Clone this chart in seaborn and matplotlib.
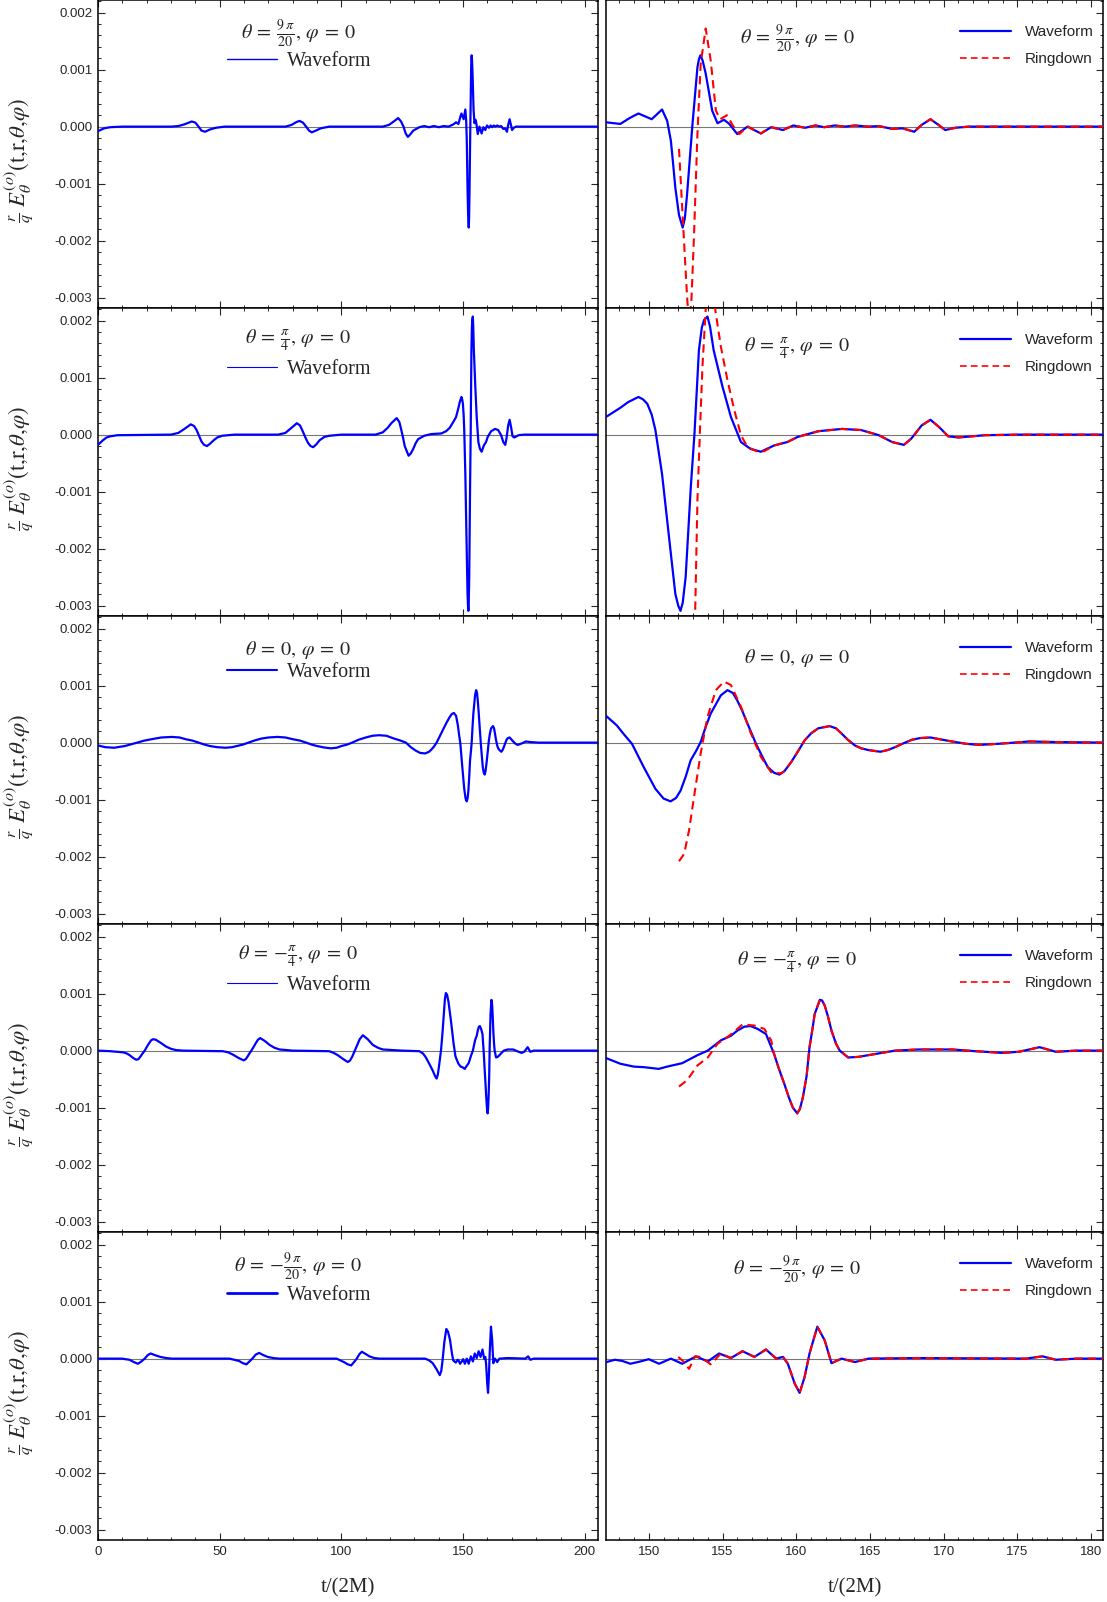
import numpy as np
import matplotlib.pyplot as plt
import seaborn as sns
from matplotlib.lines import Line2D
from matplotlib.ticker import MultipleLocator, FixedLocator

sns.set_style("ticks")
plt.rcParams["font.family"] = ["Liberation Sans", "DejaVu Sans"]
plt.rcParams["mathtext.fontset"] = "stix"
plt.rcParams["xtick.direction"] = "in"
plt.rcParams["ytick.direction"] = "in"

# ------------------------------------------------------------
# data (values in units of 1e-3)
# ------------------------------------------------------------
titles = [
    r"$\theta\:=\:\frac{9\,\pi}{20},\,\varphi\:=\:0$",
    r"$\theta\:=\:\frac{\pi}{4},\,\varphi\:=\:0$",
    r"$\theta\:=\:0,\,\varphi\:=\:0$",
    r"$\theta\:=\:-\frac{\pi}{4},\,\varphi\:=\:0$",
    r"$\theta\:=\:-\frac{9\,\pi}{20},\,\varphi\:=\:0$",
]

# theta = 9pi/20
wave1_t = [0, 1, 2.5, 5, 10, 30, 33, 35.5, 38.5, 40, 41.3, 42.5, 44, 46, 48.5, 52,
           77, 79.5, 81.5, 82.8, 84.2, 85.5, 86.7, 87.8, 89.5, 91.5, 95,
           117, 119.5, 121.5, 123.3, 124.5, 125.5, 126.4, 127.3, 128.4, 129.5, 132,
           134, 136, 138, 140, 142, 144, 146,
           147.1, 148.07, 148.7, 149.3, 150.2, 150.9, 151.25, 151.5, 151.65, 151.8, 152.05, 152.3,
           152.45, 152.6, 152.95, 153.3, 153.4, 153.5, 153.65, 153.86, 154.05, 154.3, 154.66,
           155.1, 155.45, 156.0, 156.7, 157.6, 158.3, 159.1, 159.8,
           160.6, 161.3, 161.9, 162.6, 163.3, 164.0, 164.9, 165.6, 166.5, 167.2, 168.0, 168.5,
           169.1, 169.7, 170.1, 170.8, 171.7, 175, 181, 205]
wave1_v = [-0.08, -0.06, -0.03, -0.01, 0, 0, 0.01, 0.04, 0.09, 0.07, 0.0, -0.07, -0.09, -0.05, -0.02, 0,
           0, 0.03, 0.08, 0.10, 0.07, 0.0, -0.07, -0.10, -0.07, -0.03, 0,
           0, 0.03, 0.09, 0.15, 0.09, 0.0, -0.12, -0.18, -0.13, -0.07, -0.01,
           0.01, -0.01, 0.01, -0.01, 0.01, 0.0, 0.04,
           0.076, 0.047, 0.15, 0.23, 0.13, 0.30, 0.10, -0.25, -0.65, -1.07, -1.55, -1.77,
           -1.60, -1.18, 0.0, 1.04, 1.18, 1.25, 1.16, 0.93, 0.65, 0.28, 0.06,
           0.12, 0.05, -0.13, 0.0, -0.12, -0.01, -0.06, 0.02,
           -0.02, 0.02, -0.01, 0.02, 0.0, 0.02, 0.0, 0.01, -0.04, -0.03, -0.09, 0.03,
           0.13, 0.02, -0.06, -0.02, 0.0, 0, 0, 0]
ring1_t = [152.05, 152.34, 152.6, 152.75, 152.9, 153.07, 153.3, 153.52, 153.86, 154.2, 154.55,
           154.84, 155.3, 155.7, 156.14, 156.7]
ring1_v = [-0.39, -1.77, -3.0, -3.5, -3.0, -1.89, -0.13, 1.10, 1.72, 1.16, 0.28,
           0.13, 0.20, 0.02, -0.13, 0.0]

# theta = pi/4
wave2_t = [0, 1, 2, 3.5, 5, 8, 30, 33, 35.5, 38.1, 39.5, 40.5, 41.5, 42.5, 43.6, 44.8, 46, 47.5,
           49, 51, 56, 74, 77, 79.5, 81.7, 83, 84.2, 85.2, 86.2, 87.3, 88.4, 89.7, 91, 93, 95, 100,
           114, 117, 119, 120.5, 122.7, 123.8, 124.5, 125.3, 126, 127.6, 128.5, 129.5, 130.5,
           131.5, 134, 137, 141, 143, 144.5, 146.2,
           147.1, 148.07, 148.6, 149.3, 149.6, 149.9, 150.2, 150.45, 150.9, 151.4, 151.8, 152.0,
           152.15, 152.3, 152.5, 152.85, 153.1, 153.4, 153.6, 153.75, 153.98, 154.15, 154.4,
           155.0, 155.57, 156.25, 156.9, 157.6, 158.5, 159.4, 160.1,
           161.5, 163.1, 164.4, 165.6, 166.5, 167.3, 167.8, 168.5, 169.1, 169.7, 170.3, 171.0,
           172.8, 175.1, 181, 205]
wave2_v = [-0.18, -0.14, -0.10, -0.05, -0.03, -0.01, 0, 0.03, 0.10, 0.18, 0.15, 0.08, -0.02, -0.12, -0.18, -0.20, -0.16, -0.10,
           -0.05, -0.02, 0, 0, 0.03, 0.12, 0.20, 0.16, 0.05, -0.05, -0.14, -0.20, -0.22, -0.17, -0.10, -0.04, -0.02, 0,
           0, 0.04, 0.12, 0.20, 0.29, 0.22, 0.10, -0.05, -0.20, -0.37, -0.33, -0.25, -0.15,
           -0.08, -0.02, 0.01, 0.02, 0.06, 0.12, 0.24,
           0.31, 0.47, 0.57, 0.66, 0.62, 0.54, 0.35, 0.08, -0.69, -1.86, -2.79, -3.0,
           -3.09, -2.95, -2.50, -0.92, 0.02, 1.48, 1.88, 2.01, 2.07, 1.90, 1.48,
           0.84, 0.31, -0.13, -0.25, -0.30, -0.19, -0.13, -0.04,
           0.06, 0.10, 0.08, -0.01, -0.13, -0.18, -0.07, 0.16, 0.26, 0.13, -0.03, -0.05,
           -0.01, 0, 0, 0]
ring2_t = [152.05, 152.6, 152.9, 153.14, 153.3, 153.48, 153.64, 153.86, 154.15, 154.48, 154.89,
           155.34, 155.8, 156.25, 156.7, 157.4, 157.84]
ring2_v = [-4.5, -5.2, -4.4, -3.2, -1.15, 0.13, 1.19, 2.19, 2.8, 2.24, 1.54,
           0.95, 0.43, -0.01, -0.22, -0.30, -0.29]

# theta = 0
wave3_t = [0, 3, 6.6, 11, 16.1, 19, 22, 26, 30.3, 33.5, 36, 38.8, 41.3, 43.8, 46, 49, 52.4, 55, 57,
           59.5, 61.8, 64.5, 67, 70, 73.7, 77, 80, 83, 85.5, 87.8, 90, 92.8, 95.7, 98, 100, 102.3,
           104.4, 107, 110, 112.7, 115.5, 118.5, 121, 124, 126.5, 128.5, 130.5, 132.3, 134.4, 136,
           137, 138, 139.1, 140.5, 142, 143.3, 144.5, 145.3, 146.2,
           147.1, 147.84, 148.3, 148.86, 149.25, 149.66, 150.45, 151.0, 151.48, 151.85, 152.16,
           152.5, 152.84, 153.2, 153.52, 153.85, 154.2, 154.89, 155.34, 155.7, 156.0, 156.35,
           156.7, 157.27, 157.65, 158.07, 158.5, 158.86, 159.2, 159.66, 160.1, 160.57, 161.0,
           161.48, 162.27, 162.7, 163.07, 163.5, 163.98, 164.4, 164.89, 165.7, 166.2, 166.7,
           167.2, 167.84, 168.4, 169.1, 170.34, 171.5, 172.4, 173.75, 175.8, 177.6, 181, 205]
wave3_v = [-0.05, -0.08, -0.09, -0.06, 0, 0.035, 0.06, 0.09, 0.10, 0.09, 0.06, 0.035, 0, -0.035, -0.06, -0.08, -0.09, -0.08, -0.06,
           -0.035, 0, 0.04, 0.07, 0.09, 0.10, 0.09, 0.06, 0.035, 0, -0.035, -0.06, -0.085, -0.10, -0.09, -0.06, -0.035,
           0, 0.05, 0.09, 0.12, 0.13, 0.12, 0.08, 0.04, 0, -0.08, -0.14, -0.18, -0.19, -0.16,
           -0.12, -0.07, 0.0, 0.12, 0.25, 0.36, 0.45, 0.50, 0.52,
           0.47, 0.30, 0.15, -0.02, -0.22, -0.43, -0.81, -0.98, -1.03, -0.97, -0.84,
           -0.60, -0.31, -0.15, 0.01, 0.27, 0.51, 0.83, 0.92, 0.87, 0.74, 0.55,
           0.33, -0.02, -0.22, -0.43, -0.53, -0.56, -0.50, -0.34, -0.16, 0.04, 0.16,
           0.25, 0.29, 0.25, 0.16, 0.05, -0.05, -0.10, -0.13, -0.16, -0.13, -0.08,
           -0.02, 0.05, 0.08, 0.09, 0.03, -0.02, -0.04, -0.02, 0.02, 0.01, 0, 0]
ring3_t = [152.05, 152.4, 152.73, 153.07, 153.52, 153.98, 154.55, 155.1, 155.57, 156.25, 156.93,
           157.6, 158.3, 158.98]
ring3_v = [-2.08, -1.95, -1.54, -0.95, -0.19, 0.45, 0.92, 1.07, 1.01, 0.63, 0.16,
           -0.25, -0.52, -0.54]

# theta = -pi/4
wave4_t = [0, 5, 10.3, 11.8, 13, 14.5, 15.7, 16.6, 17.5, 18.3, 19.2, 20.1, 21, 21.8, 22.6, 23.8, 26,
           28, 30.1, 32, 35, 51.3, 53.5, 55.4, 57.8, 59.8, 60.7, 61.5, 62.2, 63, 64, 64.8, 65.7,
           66.6, 68.5, 70.5, 72.5, 74.6, 80, 95, 96.8, 98.5, 100.8, 102.6, 103.6, 104.5, 105.3,
           106, 106.8, 107.5, 108.8, 110.8, 112.9, 115, 117, 125, 132, 133.5,
           134.7, 136.2, 137.5, 138.5, 139.1, 139.6, 140, 140.9, 141.5, 142, 142.5, 142.9, 143.4,
           144, 145, 146.0, 146.8,
           147.1, 148.07, 148.98, 149.66, 150.68, 151.25, 152.27, 153.3, 154.0, 154.89, 155.57,
           156.0, 156.48, 156.9, 157.39, 157.95, 158.5, 158.8, 159.2, 159.5, 159.77, 160.07,
           160.25, 160.45, 160.7, 160.9, 161.1, 161.25, 161.6, 161.75, 161.93, 162.15, 162.39,
           162.7, 162.95, 163.52, 164.2, 165.34, 166.7, 168.3, 170.57, 172.16, 174.0,
           175.1, 176.5, 177.6, 179.0, 181, 205]
wave4_v = [0, -0.01, -0.03, -0.05, -0.08, -0.13, -0.16, -0.15, -0.10, -0.05, 0, 0.07, 0.13, 0.18, 0.20, 0.19, 0.13,
           0.07, 0.03, 0.01, 0, -0.01, -0.03, -0.07, -0.13, -0.17, -0.15, -0.10, -0.05, 0.0, 0.07, 0.13, 0.19,
           0.22, 0.17, 0.10, 0.05, 0.02, 0, -0.01, -0.04, -0.08, -0.15, -0.20, -0.17, -0.10, -0.02,
           0.05, 0.13, 0.20, 0.27, 0.20, 0.10, 0.05, 0.02, 0, -0.01, -0.05,
           -0.12, -0.24, -0.35, -0.45, -0.49, -0.42, -0.30, 0.0, 0.30, 0.60, 0.90, 1.01, 0.98,
           0.85, 0.52, 0.15, -0.09,
           -0.13, -0.23, -0.28, -0.29, -0.32, -0.28, -0.22, -0.08, 0.0, 0.18, 0.26,
           0.35, 0.42, 0.43, 0.38, 0.29, -0.06, -0.30, -0.59, -0.82, -1.00, -1.10,
           -1.02, -0.82, -0.45, 0.06, 0.38, 0.64, 0.89, 0.88, 0.79, 0.60, 0.35,
           0.12, 0.0, -0.12, -0.11, -0.06, 0.0, 0.02, 0.02, -0.01, -0.04,
           -0.02, 0.06, -0.02, 0.0, 0, 0]
ring4_t = [152.05, 152.6, 153.3, 154.0, 154.66, 155.45, 156.36, 157.16, 157.84, 158.3]
ring4_v = [-0.63, -0.52, -0.26, -0.12, 0.12, 0.26, 0.46, 0.44, 0.38, 0.18]

# theta = -9pi/20
wave5_t = [0, 9.8, 12.9, 14.7, 16.4, 17.8, 19.2, 20.4, 21.6, 23.5, 25.6, 28, 30.3, 54, 57.9, 59.5,
           61, 62.2, 63.4, 64.8, 66.2, 68, 69.7, 72, 74.4, 98, 101, 102.6, 104, 105.2, 106.3, 107.4,
           108.4, 110, 111.5, 113.5, 115.5, 134.4, 136, 137.5, 139, 140.4, 141, 141.5, 142.3, 143.1,
           143.8, 144.6, 145.3, 145.9, 147,
           147.7, 148.2, 148.75, 149.43, 150.0, 150.7, 151.5, 152.27, 153.2, 154.0, 154.77, 155.57,
           156.36, 157.16, 157.95, 158.64, 159.1, 159.43, 159.9, 160.23, 160.57, 160.9, 161.43,
           161.93, 162.39, 163.07, 163.98, 164.9, 168.3, 175.57, 176.7, 177.6, 179.0, 181, 205]
wave5_v = [0, 0, -0.02, -0.06, -0.09, -0.05, 0, 0.06, 0.09, 0.06, 0.03, 0.01, 0, 0, -0.04, -0.08,
           -0.10, -0.05, 0, 0.07, 0.10, 0.06, 0.03, 0.01, 0, 0, -0.06, -0.10, -0.12, -0.06, 0, 0.08,
           0.12, 0.08, 0.04, 0.01, 0, 0, -0.03, -0.08, -0.18, -0.29, -0.22, -0.05, 0.30, 0.52,
           0.47, 0.33, 0.12, -0.03, -0.07,
           -0.02, -0.04, -0.09, -0.05, -0.01, -0.09, 0.0, -0.09, 0.04, -0.05, 0.09, 0.01,
           0.13, 0.03, 0.16, 0.0, 0.03, -0.09, -0.44, -0.60, -0.32, 0.09, 0.56,
           0.32, -0.08, 0.0, -0.06, 0.0, 0.01, 0.0, 0.04, -0.02, 0, 0, 0]
ring5_t = [152.0, 152.4, 152.73, 153.14, 153.52, 154.2, 154.89]
ring5_v = [0.03, -0.06, -0.18, 0.04, 0.03, -0.10, 0.09]

waves = [(wave1_t, wave1_v), (wave2_t, wave2_v), (wave3_t, wave3_v),
         (wave4_t, wave4_v), (wave5_t, wave5_v)]
rings = [(ring1_t, ring1_v), (ring2_t, ring2_v), (ring3_t, ring3_v),
         (ring4_t, ring4_v), (ring5_t, ring5_v)]

# per-panel text placement (axes fractions)
left_title_y = [0.89, 0.894, 0.89, 0.897, 0.887]
left_leg_y = [0.80, 0.80, 0.817, 0.80, 0.794]
left_leg_lw = [1.0, 0.8, 1.5, 0.8, 2.0]
right_title_y = [0.874, 0.871, 0.864, 0.875, 0.877]


def ringdown(head_t, head_v, wt, wv):
    # the fit lies on top of the waveform once the head ends
    tail = [i for i, t in enumerate(wt) if t > head_t[-1]]
    return head_t + [wt[i] for i in tail], head_v + [wv[i] for i in tail]


W, H = 1107, 1602
fig = plt.figure(figsize=(W / 100, H / 100), dpi=100)

lx0, lx1 = 98 / W, 598 / W
rx0, rx1 = 606 / W, 1103 / W
ph = 308 / H
ybot = (H - 1540) / H

ylim = (-0.00318, 0.00222)
blue = "#0000ff"
red = "#ff0000"

for k in range(5):
    y0 = ybot + (4 - k) * ph
    axl = fig.add_axes([lx0, y0, lx1 - lx0, ph])
    axr = fig.add_axes([rx0, y0, rx1 - rx0, ph])
    wt, wv = waves[k]
    wv_s = np.array(wv) * 1e-3
    rt, rv = ringdown(rings[k][0], rings[k][1], wt, wv)
    rv_s = np.array(rv) * 1e-3

    for ax in (axl, axr):
        ax.axhline(0, color="#777777", lw=0.8, zorder=1)
        sns.lineplot(x=wt, y=wv_s, ax=ax, color=blue, lw=1.6, sort=False,
                     estimator=None, zorder=3)
        ax.set_ylim(*ylim)
        ax.set_ylabel("")
        ax.set_xlabel("")
        for s in ax.spines.values():
            s.set_visible(True)
            s.set_linewidth(1.1)
            s.set_color("black")
        ax.yaxis.set_major_locator(FixedLocator([-0.003, -0.002, -0.001, 0, 0.001, 0.002]))
        ax.yaxis.set_minor_locator(MultipleLocator(0.0002))
        ax.tick_params(which="major", length=5, width=0.8, labelsize=9.5, pad=4)
        ax.tick_params(which="minor", length=2.5, width=0.7)
        ax.tick_params(which="both", top=True, bottom=True)

    sns.lineplot(x=rt, y=rv_s, ax=axr, color=red, lw=1.5, sort=False,
                 estimator=None, zorder=4, linestyle=(0, (4, 2.5)))

    # left column
    axl.set_xlim(0, 205.4)
    axl.xaxis.set_major_locator(MultipleLocator(50))
    axl.xaxis.set_minor_locator(MultipleLocator(10))
    axl.tick_params(which="both", left=True, right=True)
    axl.set_yticklabels(["-0.003", "-0.002", "-0.001", "0.000", "0.001", "0.002"])
    axl.set_ylabel(r"$\frac{r}{q}\ E_\theta^{(o)}(\mathrm{t{,}r{,}}\theta{,}\varphi)$",
                   fontsize=16.5, va="center")
    axl.yaxis.set_label_coords(-0.158, 0.48)
    axl.text(0.40, left_title_y[k], titles[k], transform=axl.transAxes,
             ha="center", va="center", fontsize=14.5)
    h = Line2D([], [], color=blue, lw=left_leg_lw[k])
    axl.legend([h], ["Waveform"], loc="center left", bbox_to_anchor=(0.257, left_leg_y[k]),
               frameon=False, borderpad=0, borderaxespad=0, handlelength=2.5,
               handletextpad=0.5, prop={"family": "Liberation Serif", "size": 14.5})

    # right column
    axr.set_xlim(147.1, 180.8)
    axr.xaxis.set_major_locator(MultipleLocator(5))
    axr.xaxis.set_minor_locator(MultipleLocator(1))
    axr.tick_params(which="both", left=False, right=True, labelleft=False)
    axr.text(0.384, right_title_y[k], titles[k], transform=axr.transAxes,
             ha="center", va="center", fontsize=14.5)
    hb = Line2D([], [], color=blue, lw=1.6)
    hr = Line2D([], [], color=red, lw=1.2, linestyle=(0, (4, 2.5)))
    axr.legend([hb, hr], ["Waveform", "Ringdown"], loc="center left",
               bbox_to_anchor=(0.713, 0.851), frameon=False, borderpad=0, borderaxespad=0,
               handlelength=3.3, handletextpad=0.9, labelspacing=0.85,
               prop={"family": "Liberation Sans", "size": 11})

    if k < 4:
        axl.tick_params(labelbottom=False)
        axr.tick_params(labelbottom=False)
    else:
        for ax in (axl, axr):
            ax.set_xlabel("t/(2M)", fontsize=15, family="Liberation Serif")
            ax.xaxis.set_label_coords(0.5, -0.125)

fig.savefig("out.png", dpi=100)
